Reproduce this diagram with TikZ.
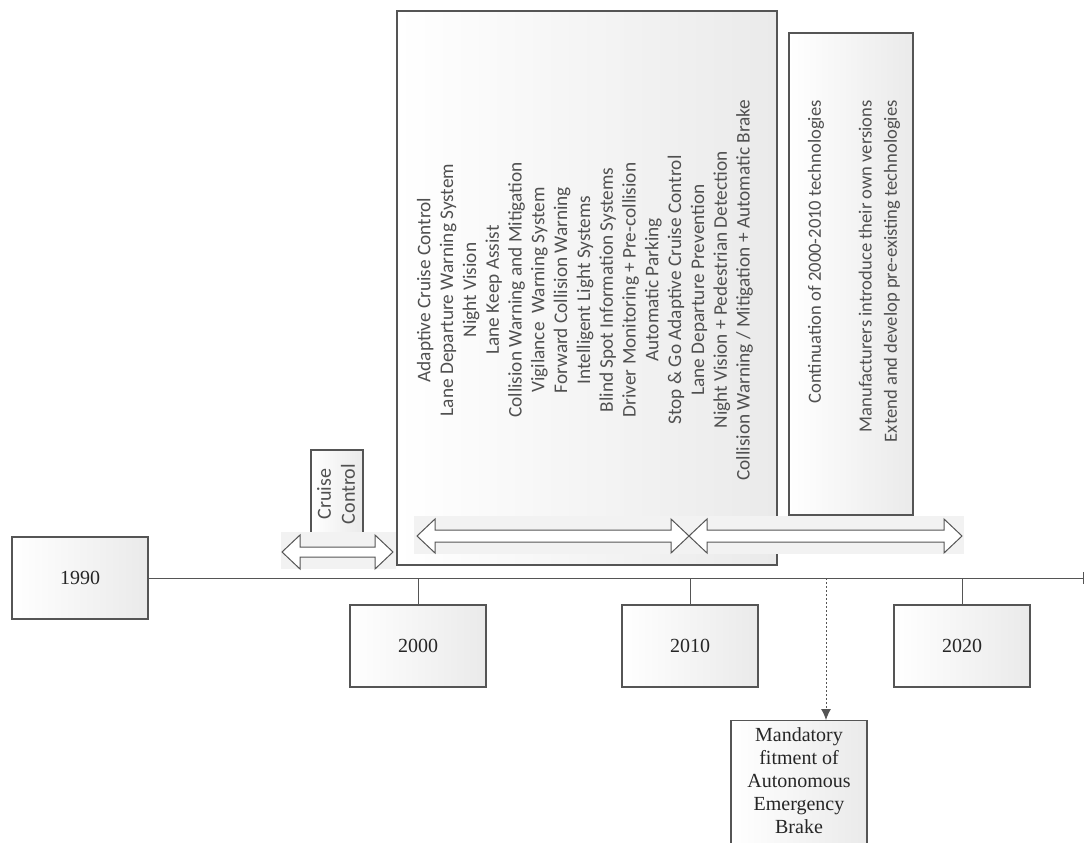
\documentclass[tikz,border=0pt]{standalone}
\usepackage{fontspec}
\setmainfont{Liberation Serif}
\newfontfamily\lightsans{Carlito}
\usetikzlibrary{arrows.meta}

\definecolor{edge}{RGB}{85,85,85}
\definecolor{labelgray}{RGB}{80,80,80}
\definecolor{boxshade}{RGB}{234,234,234}
\definecolor{bandfill}{RGB}{242,242,242}

\tikzset{
  yearbox/.style={draw=edge, line width=1.1pt, left color=white, right color=boxshade,
    minimum width=136pt, minimum height=82pt, inner sep=0pt,
    font=\fontsize{20}{23}\selectfont, text=black!85, align=center},
  panel/.style={draw=edge, line width=1.1pt, left color=white, right color=boxshade},
  band/.style={fill=bandfill, draw=none},
  blockarrow/.style={draw=edge, line width=1pt, fill=white, line join=miter},
  vlabel/.style={rotate=90, text=labelgray, align=center, inner sep=0pt},
  axis/.style={draw=edge, line width=1pt},
}

% hollow double-headed block arrow: left tip x, right tip x, centre y, half body
\newcommand\hollowarrow[4]{%
  \draw[blockarrow] (#1,#3) -- ({#1+18},{#3-17}) -- ({#1+18},{#3-#4})
    -- ({#2-18},{#3-#4}) -- ({#2-18},{#3-17}) -- (#2,#3)
    -- ({#2-18},{#3+17}) -- ({#2-18},{#3+#4}) -- ({#1+18},{#3+#4})
    -- ({#1+18},{#3+17}) -- cycle;}

\begin{document}
\begin{tikzpicture}[x=1pt, y=-1pt]
  \useasboundingbox (0,0) rectangle (1085,843);
  \clip (0,0) rectangle (1085,843);

  % period panels
  \path[panel] (397,11) rectangle (777,565);
  \path[panel] (789,33) rectangle (913,515);
  \path[panel] (311,450) rectangle (363,545);

  \node[vlabel, font=\lightsans\fontsize{19.3}{22.8}\selectfont] (tech0010) at (585,290)
    {Adaptive Cruise Control\\
     Lane Departure Warning System\\
     Night Vision\\
     Lane Keep Assist\\
     Collision Warning and Mitigation\\
     Vigilance\ \ Warning System\\
     Forward Collision Warning\\
     Intelligent Light Systems\\
     Blind Spot Information Systems\\
     Driver Monitoring + Pre-collision\\
     Automatic Parking\\
     Stop \& Go Adaptive Cruise Control\\
     Lane Departure Prevention\\
     Night Vision + Pedestrian Detection\\
     Collision Warning / Mitigation + Automatic Brake};

  \node[vlabel, align=right, anchor=east, font=\lightsans\fontsize{18.6}{25.3}\selectfont]
    (tech1020) at (854,100)
    {Continuation of 2000-2010 technologies\\
     \mbox{}\\
     Manufacturers introduce their own versions\\
     Extend and develop pre-existing technologies};

  \node[vlabel, font=\lightsans\fontsize{20}{24}\selectfont] (cruise) at (336,494)
    {Cruise\\Control};

  % span arrows on their light strips
  \path[band] (281,532) rectangle (396,569);
  \path[band] (414,516) rectangle (964,554);
  \hollowarrow{282}{393}{552}{5}
  \hollowarrow{417}{689}{536}{6}
  \hollowarrow{689}{962}{536}{6}

  % year markers
  \node[yearbox] (y1990) at (80,578) {1990};
  \node[yearbox] (y2000) at (418,646) {2000};
  \node[yearbox] (y2010) at (690,646) {2010};
  \node[yearbox] (y2020) at (962,646) {2020};

  \coordinate (axisend) at (1084,578);
  \draw[axis, -{Bar[width=12pt]}] (y1990.east) -- (axisend);
  \draw[axis] (y2000.north) -- (y2000.north |- y1990.east);
  \draw[axis] (y2010.north) -- (y2010.north |- y1990.east);
  \draw[axis] (y2020.north) -- (y2020.north |- y1990.east);

  % emergency brake mandate
  \node[yearbox, minimum height=140pt, anchor=north] (aeb) at (799,720) {};
  \node[font=\fontsize{20}{23}\selectfont, text=black!85, align=center] (aebtext) at (799,781)
    {Mandatory\\fitment of\\Autonomous\\Emergency\\Brake};
  \coordinate (aebmark) at (826,578);
  \draw[axis, line width=0.9pt, dash pattern=on 2pt off 2pt,
        -{Latex[length=11pt, width=10pt]}] (aebmark) -- (aebmark |- aeb.north);
\end{tikzpicture}
\end{document}
